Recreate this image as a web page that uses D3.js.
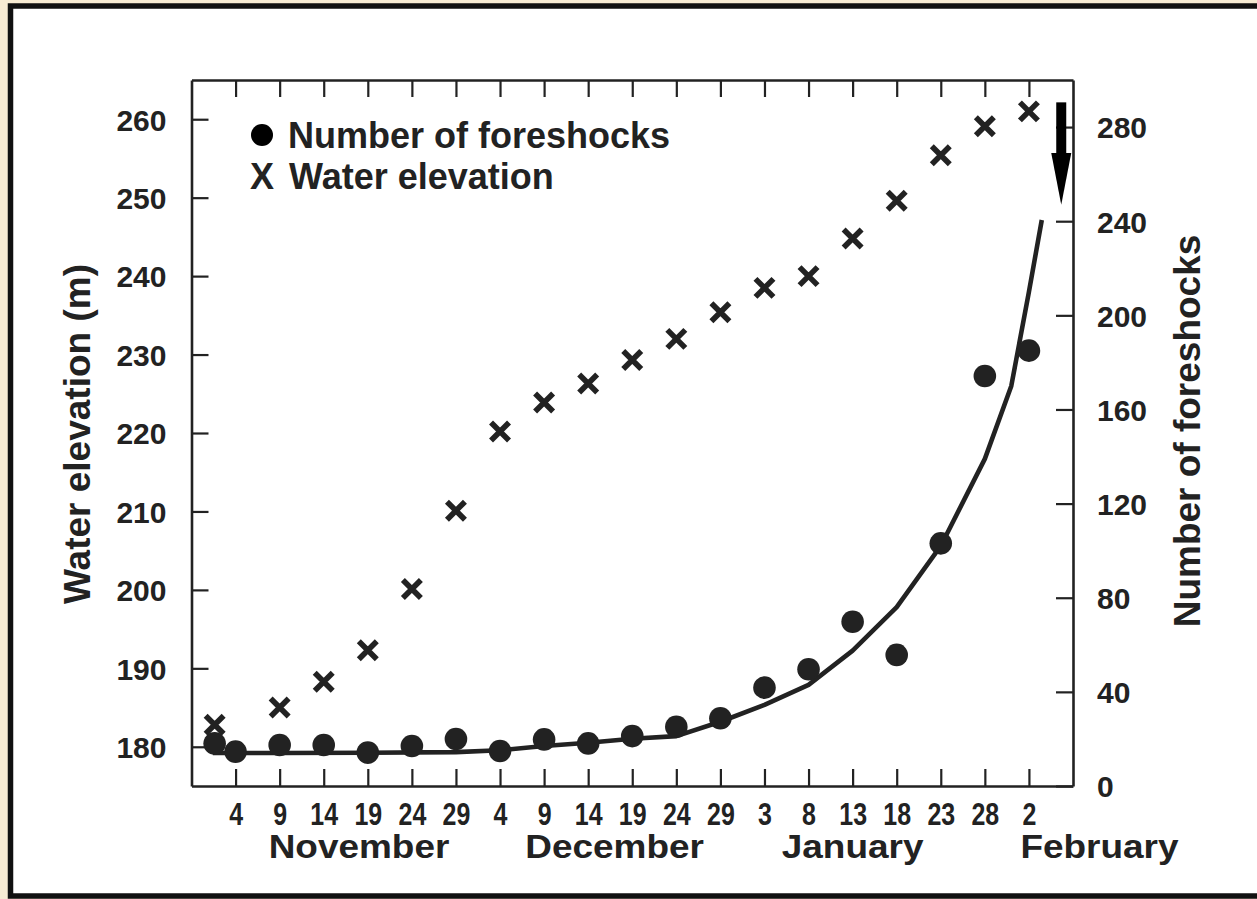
<!DOCTYPE html>
<html>
<head>
<meta charset="utf-8">
<script src="https://cdn.jsdelivr.net/npm/d3@7"></script>
<style>
  body { margin: 0; background: #f7ebd3; }
  svg { display: block; }
</style>
</head>
<body>
<div id="chart"></div>
<script>
const dotDates = ['1965-11-01T15:00Z', '1965-11-04', '1965-11-09', '1965-11-14', '1965-11-19', '1965-11-24',
    '1965-11-29', '1965-12-04', '1965-12-09', '1965-12-14', '1965-12-19', '1965-12-24', '1965-12-29',
    '1966-01-03', '1966-01-08', '1966-01-13', '1966-01-18', '1966-01-23', '1966-01-28', '1966-02-02'];
const foreshocks = [18.1, 14.6, 17.4, 17.4, 14.2, 17.0, 20.0, 14.9, 19.8, 18.1, 21.2, 25.2, 28.8,
    41.8, 49.6, 69.8, 55.7, 103.1, 174.2, 185.0];

const waterDates = ['1965-11-01T15:00Z', '1965-11-09', '1965-11-14', '1965-11-19', '1965-11-24', '1965-11-29',
    '1965-12-04', '1965-12-09', '1965-12-14', '1965-12-19', '1965-12-24', '1965-12-29',
    '1966-01-03', '1966-01-08', '1966-01-13', '1966-01-18', '1966-01-23', '1966-01-28', '1966-02-02'];
const waterElevation = [182.8, 185.0, 188.3, 192.3, 200.1, 210.1, 220.2, 223.9, 226.3, 229.3, 232.0, 235.4,
    238.5, 240.0, 244.8, 249.6, 255.4, 259.1, 261.0];

// 추세선
const fitDates = ['1965-11-01T10:00Z', '1965-11-09', '1965-11-19', '1965-11-29', '1965-12-04', '1965-12-09',
    '1965-12-14', '1965-12-19', '1965-12-24', '1965-12-29', '1966-01-03', '1966-01-08', '1966-01-13',
    '1966-01-18', '1966-01-23', '1966-01-28', '1966-01-31', '1966-02-02', '1966-02-03T11:00Z'];
const fitValues = [14.0, 14.0, 14.1, 14.4, 15.2, 17.0, 18.4, 20.1, 21.2, 27.3, 34.5, 43.0, 57.5,
    76.0, 102.0, 139.0, 170.0, 210.0, 240.5];

// 축 눈금
const tickDates = ['1965-11-04', '1965-11-09', '1965-11-14', '1965-11-19', '1965-11-24', '1965-11-29',
    '1965-12-04', '1965-12-09', '1965-12-14', '1965-12-19', '1965-12-24', '1965-12-29',
    '1966-01-03', '1966-01-08', '1966-01-13', '1966-01-18', '1966-01-23', '1966-01-28', '1966-02-02'];
const elevationTicks = [180, 190, 200, 210, 220, 230, 240, 250, 260];
const countTicks = [0, 40, 80, 120, 160, 200, 240, 280];
const monthNames = ['November', 'December', 'January', 'February'];
const monthDates = ['1965-11-18', '1965-12-17', '1966-01-13', '1966-02-10'];
const mainShock = '1966-02-05T16:00Z';

const parse = s => d3.isoParse(s);
const ink = '#222';
const sans = '"Liberation Sans", Arial, sans-serif';

const width = 1257;
const height = 899;
const plot = { left: 191.5, right: 1073, top: 80, bottom: 786 };

const svg = d3.select('#chart')
    .append('svg')
    .attr('width', width)
    .attr('height', height);

// 바깥 테두리
svg.append('rect')
    .attr('x', 10.5)
    .attr('y', 6)
    .attr('width', 1300)
    .attr('height', 890)
    .attr('fill', '#fff')
    .attr('stroke', '#111')
    .attr('stroke-width', 5.5);

// 스케일
const x = d3.scaleUtc()
    .domain([parse('1965-10-30'), parse('1966-02-07')])
    .range([plot.left, plot.right]);
const yL = d3.scaleLinear().domain([175, 265]).range([plot.bottom, plot.top]);
const yR = d3.scaleLinear().domain([0, 300]).range([plot.bottom, plot.top]);

const ticks = tickDates.map(parse);

function styleAxis(g, size) {
    g.select('.domain').attr('stroke', ink).attr('stroke-width', 2.6);
    g.selectAll('.tick line').attr('stroke', ink).attr('stroke-width', 2.2);
    g.selectAll('.tick text')
        .attr('fill', ink)
        .style('font-family', sans)
        .style('font-weight', 'bold')
        .style('font-size', size);
}

// 아래 축 (좁은 글꼴 흉내: 가로 축소)
svg.append('g')
    .attr('transform', `translate(0,${plot.bottom})`)
    .call(d3.axisBottom(x).tickValues(ticks).tickFormat(d3.utcFormat('%-d'))
        .tickSize(-17).tickSizeOuter(0).tickPadding(16))
    .call(g => styleAxis(g, '32px'))
    .call(g => g.selectAll('.tick text').attr('transform', 'scale(0.78,1)'));

// 위 축
svg.append('g')
    .attr('transform', `translate(0,${plot.top})`)
    .call(d3.axisTop(x).tickValues(ticks).tickFormat('').tickSize(-17).tickSizeOuter(0))
    .call(g => styleAxis(g, '30px'));

// 왼쪽 축
svg.append('g')
    .attr('transform', `translate(${plot.left},0)`)
    .call(d3.axisLeft(yL).tickValues(elevationTicks).tickSize(-17).tickSizeOuter(0).tickPadding(25))
    .call(g => styleAxis(g, '30px'))
    .call(g => g.selectAll('.tick text').attr('dy', '0.36em'));

// 오른쪽 축
svg.append('g')
    .attr('transform', `translate(${plot.right},0)`)
    .call(d3.axisRight(yR).tickValues(countTicks).tickSize(-17).tickSizeOuter(0).tickPadding(24))
    .call(g => styleAxis(g, '30px'))
    .call(g => g.selectAll('.tick text').attr('dy', '0.36em'));

// 월 이름
svg.append('g')
    .selectAll('g')
    .data(monthNames)
    .join('g')
    .attr('transform', (d, i) => `translate(${x(parse(monthDates[i]))},858) scale(1.12,1)`)
    .append('text')
    .attr('text-anchor', 'middle')
    .attr('fill', ink)
    .style('font-family', sans)
    .style('font-weight', 'bold')
    .style('font-size', '33px')
    .text(d => d);

// 축 제목
const titleFont = g => g
    .attr('fill', ink)
    .attr('text-anchor', 'middle')
    .style('font-family', sans)
    .style('font-weight', 'bold')
    .style('font-size', '37px');

svg.append('text')
    .attr('transform', 'translate(90,434) rotate(-90)')
    .call(titleFont)
    .text('Water elevation (m)');

svg.append('text')
    .attr('transform', 'translate(1200,431) rotate(-90)')
    .call(titleFont)
    .text('Number of foreshocks');

// 추세선
const line = d3.line()
    .x(d => x(d[0]))
    .y(d => yR(d[1]));

svg.append('path')
    .datum(fitDates.map((d, i) => [parse(d), fitValues[i]]))
    .attr('fill', 'none')
    .attr('stroke', ink)
    .attr('stroke-width', 4.6)
    .attr('stroke-linejoin', 'round')
    .attr('d', line);

// 전진 지진 수
svg.append('g')
    .selectAll('circle')
    .data(foreshocks)
    .join('circle')
    .attr('cx', (d, i) => x(parse(dotDates[i])))
    .attr('cy', d => yR(d))
    .attr('r', 11.3)
    .attr('fill', ink);

// 수위
svg.append('g')
    .selectAll('path')
    .data(waterElevation)
    .join('path')
    .attr('transform', (d, i) => `translate(${x(parse(waterDates[i]))},${yL(d)})`)
    .attr('d', 'M-9,-9L9,9M-9,9L9,-9')
    .attr('stroke', ink)
    .attr('stroke-width', 5.6)
    .attr('fill', 'none');

// 본진 화살표
const ax = x(parse(mainShock));
const aTop = yR(290.5);
const aNeck = yR(269);
const aTip = yR(247);
svg.append('rect')
    .attr('x', ax - 5)
    .attr('y', aTop)
    .attr('width', 10)
    .attr('height', aNeck - aTop + 1)
    .attr('fill', '#000');
svg.append('polygon')
    .attr('points', `${ax - 10},${aNeck} ${ax + 10},${aNeck} ${ax},${aTip}`)
    .attr('fill', '#000');

// 범례
const legendFont = t => t
    .attr('fill', ink)
    .style('font-family', sans)
    .style('font-weight', 'bold')
    .style('font-size', '36px');

svg.append('circle')
    .attr('cx', 262)
    .attr('cy', 135)
    .attr('r', 11)
    .attr('fill', '#000');
svg.append('text').attr('x', 288).attr('y', 148).call(legendFont).text('Number of foreshocks');
svg.append('text').attr('x', 250).attr('y', 189).call(legendFont).text('X');
svg.append('text').attr('x', 289).attr('y', 189).call(legendFont).text('Water elevation');
</script>
</body>
</html>
